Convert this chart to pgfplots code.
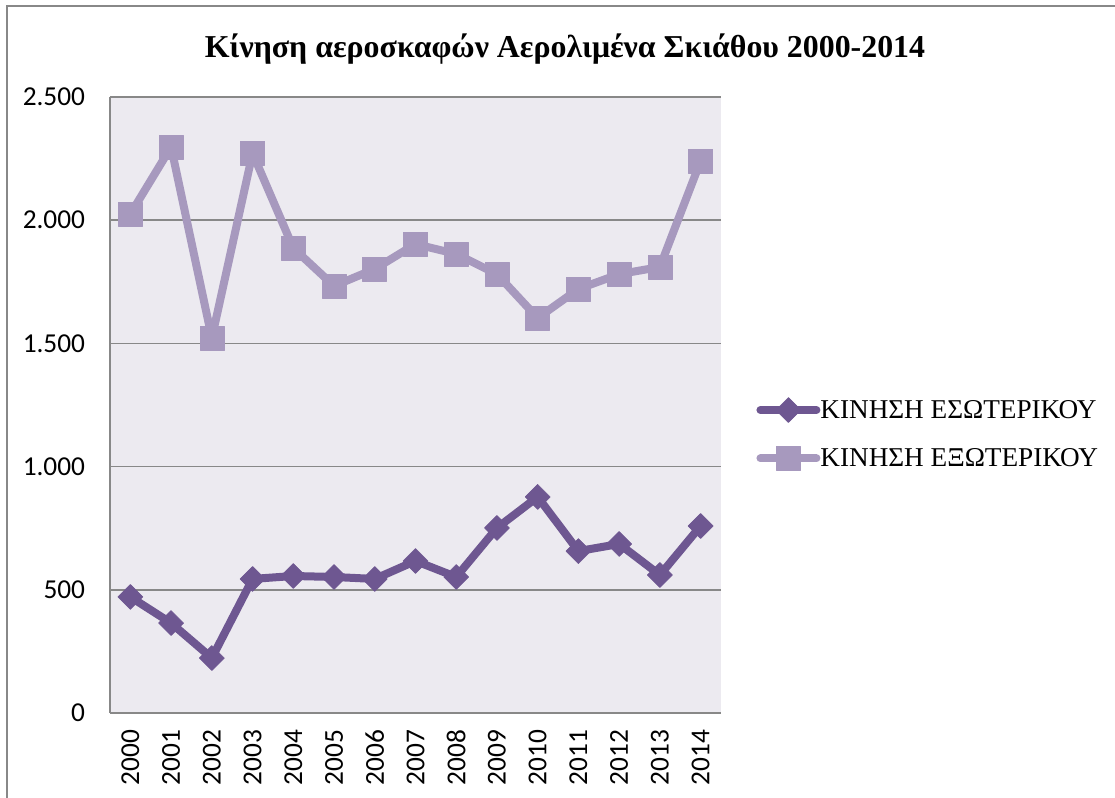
\documentclass[border=0pt]{standalone}
\usepackage{fontspec}
\setmainfont{Liberation Serif}
\newfontfamily\carlito{Carlito}
\usepackage{pgfplots}
\pgfplotsset{compat=1.18}
\definecolor{dark}{RGB}{110,87,145}
\definecolor{light}{RGB}{167,153,190}
\definecolor{bgc}{RGB}{236,234,240}
\definecolor{gridc}{RGB}{136,136,136}
\begin{document}
\begin{tikzpicture}
\path[use as bounding box] (0pt,0pt) rectangle (836.25pt,598.5pt);
\draw[gridc, line width=1.2pt] (5.25pt,0pt) -- (5.25pt,594pt) -- (836.25pt,594pt);
\node[anchor=base, font=\fontsize{23.9}{28}\selectfont\bfseries] at (423.75pt,555pt) {Κίνηση αεροσκαφών Αερολιμένα Σκιάθου 2000-2014};
\begin{axis}[
  at={(82.5pt,63.75pt)}, anchor=south west,
  scale only axis, width=458.25pt, height=462pt,
  xmin=-0.5, xmax=14.5, ymin=0, ymax=2500,
  xtick={0,...,14},
  xticklabels={2000,2001,2002,2003,2004,2005,2006,2007,2008,2009,2010,2011,2012,2013,2014},
  ytick={0,500,1000,1500,2000,2500},
  axis x line=bottom, axis y line=left,
  axis line style={-, gridc, line width=1.2pt},
  major tick length=0pt,
  ymajorgrids, grid style={gridc, line width=1.2pt},
  axis background/.style={fill=bgc},
  /pgf/number format/.cd, 1000 sep={.}, assume math mode=true, /pgfplots/.cd,
  tick label style={font=\carlito\fontsize{20.5}{22}\selectfont},
  yticklabel style={anchor=east, inner sep=0pt, xshift=-18.5pt},
  xticklabel style={rotate=90, anchor=east, inner sep=0pt},
  xticklabel shift=12.5pt,
  clip=false,
  legend style={draw=none, fill=none, at={(1.051,0.5168)}, anchor=north west,
    font=\fontsize{20.4}{22}\selectfont, row sep=18pt,
    nodes={inner sep=0pt}},
  legend cell align=left,
  legend image code/.code={\draw[mark repeat=2,mark phase=2,#1] plot coordinates {(0pt,0pt)(21pt,0pt)(42pt,0pt)};},
]
\addplot[dark, line width=6pt, line join=round, line cap=round, mark=square*, mark size=6.6pt, mark options={rotate=45, line width=0.5pt, fill=dark, draw=dark}]
coordinates {(0,471)(1,365)(2,223)(3,544)(4,556)(5,552)(6,544)(7,617)(8,552)(9,751)(10,877)(11,657)(12,686)(13,560)(14,759)};
\addlegendentry{ΚΙΝΗΣΗ ΕΣΩΤΕΡΙΚΟΥ}
\addplot[light, line width=6pt, line join=round, line cap=round, mark=square*, mark size=9pt, mark options={line width=0.5pt, fill=light, draw=light}]
coordinates {(0,2025)(1,2297)(2,1522)(3,2272)(4,1887)(5,1733)(6,1802)(7,1903)(8,1863)(9,1781)(10,1603)(11,1721)(12,1781)(13,1810)(14,2240)};
\addlegendentry{ΚΙΝΗΣΗ ΕΞΩΤΕΡΙΚΟΥ}
\end{axis}
\end{tikzpicture}
\end{document}
